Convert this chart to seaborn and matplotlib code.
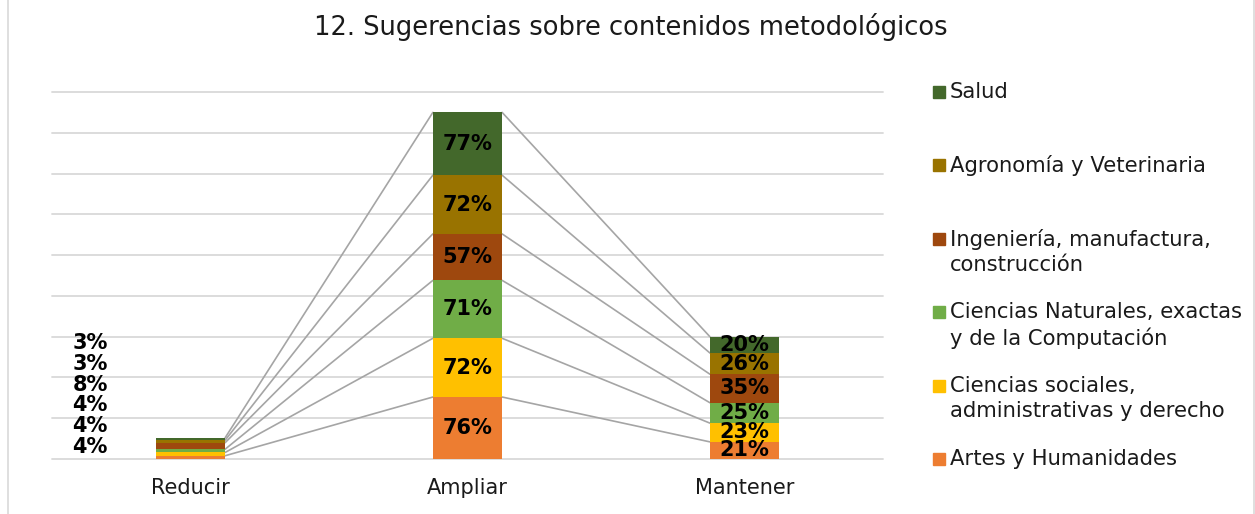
import numpy as np
import matplotlib
matplotlib.use("Agg")
import matplotlib.pyplot as plt
from matplotlib.patches import Rectangle
import seaborn as sns

# data
categories = ["Reducir", "Ampliar", "Mantener"]
series = [
    "Artes y Humanidades",
    "Ciencias sociales,\nadministrativas y derecho",
    "Ciencias Naturales, exactas\ny de la Computación",
    "Ingeniería, manufactura,\nconstrucción",
    "Agronomía y Veterinaria",
    "Salud",
]
artes = [4, 76, 21]
sociales = [4, 72, 23]
naturales = [4, 71, 25]
ingenieria = [8, 57, 35]
agronomia = [3, 72, 26]
salud = [3, 77, 20]
colors = ["#ED7D31", "#FFC000", "#70AD47", "#9E480E", "#997300", "#43682B"]

values = [artes, sociales, naturales, ingenieria, agronomia, salud]

sns.set_theme(style="white")
plt.rcParams["font.family"] = ["DejaVu Sans"]

fig = plt.figure(figsize=(12.55, 5.14), dpi=100)
ax = fig.add_axes([52 / 1255, 1 - 459 / 514, (883 - 52) / 1255, (459 - 92) / 514])

bar_w = 0.25
bottom = np.zeros(len(categories))
tops = []
for vals, col in zip(values, colors):
    sns.barplot(x=categories, y=vals, bottom=bottom, color=col, width=bar_w,
                saturation=1, linewidth=0, edgecolor="none", ax=ax, zorder=3)
    bottom = bottom + np.array(vals)
    tops.append(bottom.copy())

# series lines between bars
for top in tops:
    for i in range(len(categories) - 1):
        ax.plot([i + bar_w / 2, i + 1 - bar_w / 2], [top[i], top[i + 1]],
                color="#A5A5A5", lw=1.2, zorder=2)

# data labels
lab_kw = dict(fontsize=15, fontweight="bold", color="black", zorder=5)
bottom = np.zeros(len(categories))
for k, vals in enumerate(values):
    for i, v in enumerate(vals):
        if i == 0:
            # Reducir labels were moved to the left of the bar
            ax.text(-0.363, 14.7 + 25.5 * k, f"{v}%", ha="center", va="center", **lab_kw)
        else:
            ax.text(i, bottom[i] + v / 2, f"{v}%", ha="center", va="center", **lab_kw)
    bottom = bottom + np.array(vals)

ax.set_xlim(-0.5, 2.5)
ax.set_ylim(0, 450)
ax.set_yticks(np.arange(0, 451, 50))
ax.set_yticklabels([])
ax.grid(axis="y", color="#D9D9D9", lw=1.3, zorder=0)
for gl in ax.get_ygridlines():
    gl.set_clip_on(False)
ax.tick_params(axis="x", length=0, pad=14, labelsize=15, labelcolor="#1a1a1a")
ax.tick_params(axis="y", length=0)
ax.set_xlabel("")
ax.set_ylabel("")
for s in ax.spines.values():
    s.set_visible(False)

fig.text(631 / 1255, 1 - 27 / 514, "12. Sugerencias sobre contenidos metodológicos",
         ha="center", va="center", fontsize=18.5, color="#1a1a1a")

# legend (top to bottom: Salud ... Artes)
for j, k in enumerate(range(len(series) - 1, -1, -1)):
    y = 92 + 73.4 * j
    fig.patches.append(Rectangle((933 / 1255, 1 - (y + 6) / 514), 12 / 1255, 12 / 514,
                                 transform=fig.transFigure, color=colors[k]))
    fig.text(950 / 1255, 1 - (y - 10) / 514, series[k], ha="left", va="top",
             fontsize=15.2, color="#1a1a1a", linespacing=1.33)

# chart border
fig.patches.append(Rectangle((8 / 1255, -0.01), 1246 / 1255, 1.02, transform=fig.transFigure,
                             fill=False, edgecolor="#D9D9D9", lw=1.2))

fig.savefig("out.png", dpi=100)
